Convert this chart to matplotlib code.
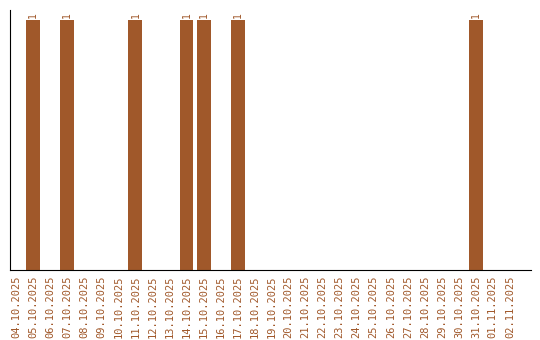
import matplotlib
matplotlib.use('Agg')
import matplotlib.pyplot as plt

dates = ['04.10.2025', '05.10.2025', '06.10.2025', '07.10.2025', '08.10.2025',
         '09.10.2025', '10.10.2025', '11.10.2025', '12.10.2025', '13.10.2025',
         '14.10.2025', '15.10.2025', '16.10.2025', '17.10.2025', '18.10.2025',
         '19.10.2025', '20.10.2025', '21.10.2025', '22.10.2025', '23.10.2025',
         '24.10.2025', '25.10.2025', '26.10.2025', '27.10.2025', '28.10.2025',
         '29.10.2025', '30.10.2025', '31.10.2025', '01.11.2025', '02.11.2025']
counts = [0, 1, 0, 1, 0, 0, 0, 1, 0, 0, 1, 1, 0, 1, 0, 0, 0, 0, 0, 0,
          0, 0, 0, 0, 0, 0, 0, 1, 0, 0]

brown = '#a0582a'

fig = plt.figure(figsize=(5.4, 3.4), dpi=100)
ax = fig.add_axes([10/540, 70/340, 521/540, 260/340])

x = range(len(dates))
ax.bar(x, counts, width=0.82, color=brown)

# value labels only on non-empty days
for i, c in enumerate(counts):
    if c > 0:
        ax.text(i, c + 0.01, str(c), rotation=90, ha='center', va='bottom',
                color=brown, fontsize=7, family='DejaVu Sans Mono')

ax.set_xticks(list(x))
ax.set_xticklabels(dates, rotation=90, color=brown, fontsize=7.5,
                   family='DejaVu Sans Mono')
ax.tick_params(axis='x', length=0, pad=4)
ax.set_yticks([])
ax.set_xlim(-0.37, 30.24)
ax.set_ylim(0, 1.04)

ax.spines['top'].set_visible(False)
ax.spines['right'].set_visible(False)

fig.savefig('out.png', dpi=100)
